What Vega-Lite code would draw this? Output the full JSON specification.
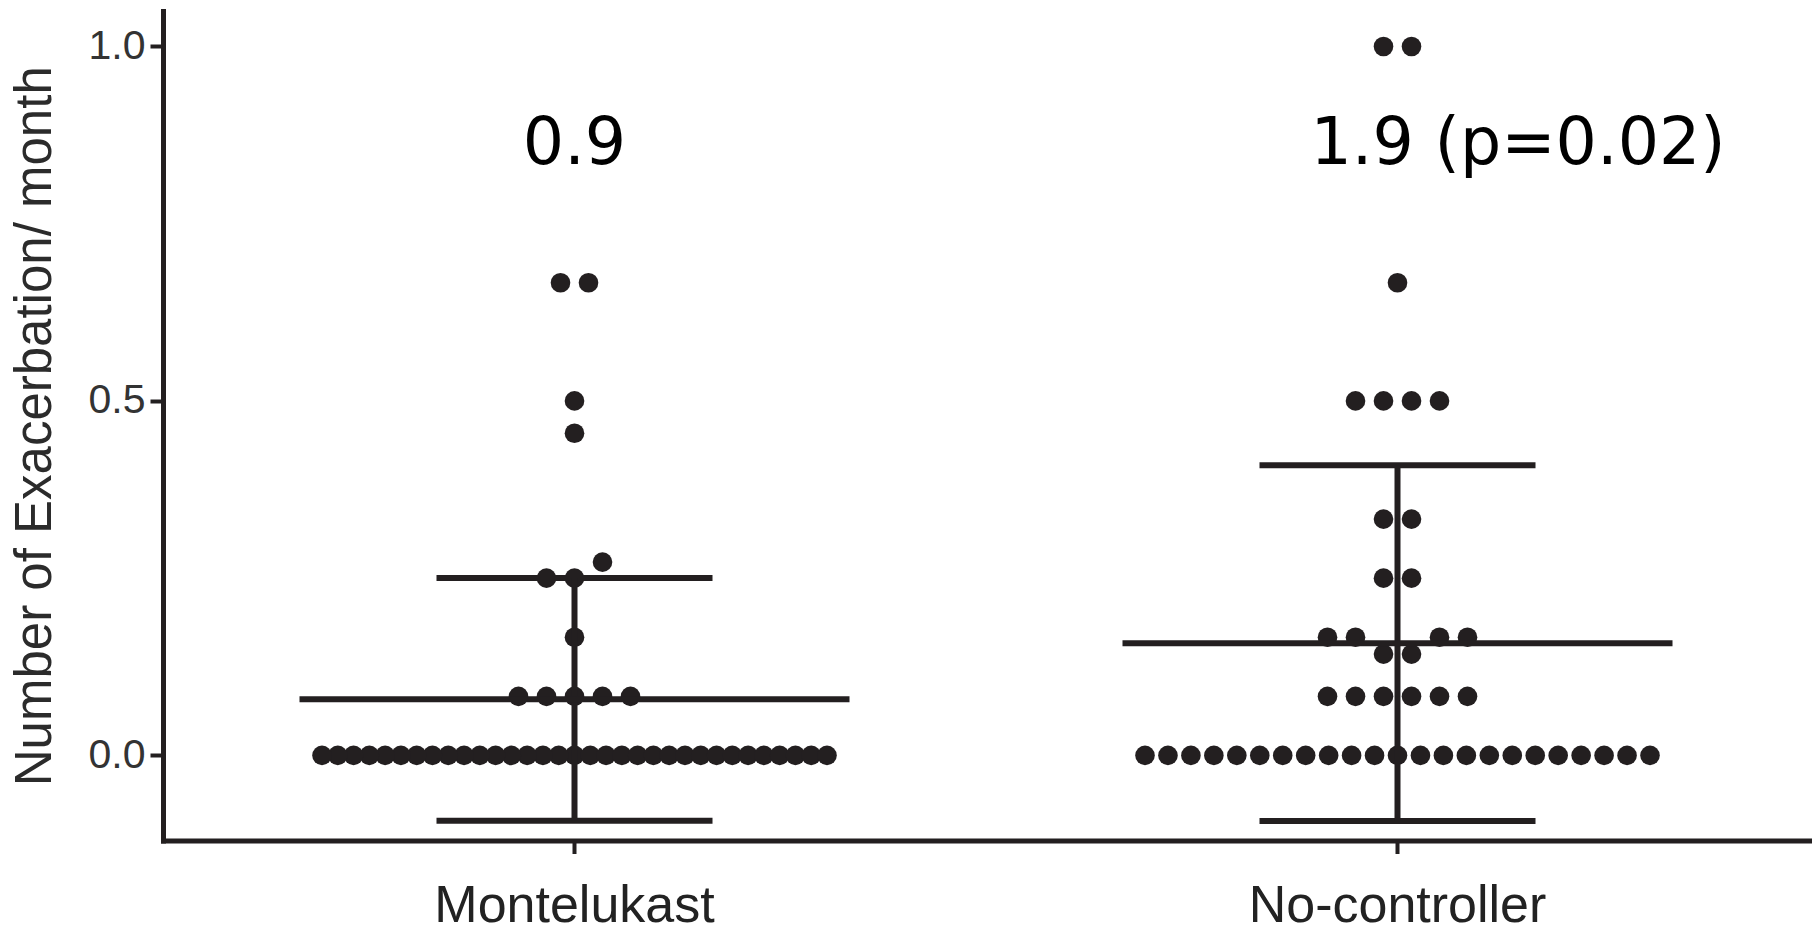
{
  "$schema": "https://vega.github.io/schema/vega-lite/v6.json",
  "width": 1646,
  "height": 829.5,
  "autosize": {"type": "none"},
  "padding": {"left": 163, "top": 11, "right": 9, "bottom": 93.5},
  "background": "white",
  "config": {"view": {"stroke": null}, "font": "Liberation Sans"},
  "data": {
    "values": [
      {"group": "Montelukast", "value": 0}, {"group": "Montelukast", "value": 0}, {"group": "Montelukast", "value": 0},
      {"group": "Montelukast", "value": 0}, {"group": "Montelukast", "value": 0}, {"group": "Montelukast", "value": 0},
      {"group": "Montelukast", "value": 0}, {"group": "Montelukast", "value": 0}, {"group": "Montelukast", "value": 0},
      {"group": "Montelukast", "value": 0}, {"group": "Montelukast", "value": 0}, {"group": "Montelukast", "value": 0},
      {"group": "Montelukast", "value": 0}, {"group": "Montelukast", "value": 0}, {"group": "Montelukast", "value": 0},
      {"group": "Montelukast", "value": 0}, {"group": "Montelukast", "value": 0}, {"group": "Montelukast", "value": 0},
      {"group": "Montelukast", "value": 0}, {"group": "Montelukast", "value": 0}, {"group": "Montelukast", "value": 0},
      {"group": "Montelukast", "value": 0}, {"group": "Montelukast", "value": 0}, {"group": "Montelukast", "value": 0},
      {"group": "Montelukast", "value": 0}, {"group": "Montelukast", "value": 0}, {"group": "Montelukast", "value": 0},
      {"group": "Montelukast", "value": 0}, {"group": "Montelukast", "value": 0}, {"group": "Montelukast", "value": 0},
      {"group": "Montelukast", "value": 0}, {"group": "Montelukast", "value": 0}, {"group": "Montelukast", "value": 0},
      {"group": "Montelukast", "value": 0.0833}, {"group": "Montelukast", "value": 0.0833}, {"group": "Montelukast", "value": 0.0833},
      {"group": "Montelukast", "value": 0.0833}, {"group": "Montelukast", "value": 0.0833},
      {"group": "Montelukast", "value": 0.1667},
      {"group": "Montelukast", "value": 0.25}, {"group": "Montelukast", "value": 0.25},
      {"group": "Montelukast", "value": 0.2727},
      {"group": "Montelukast", "value": 0.4545},
      {"group": "Montelukast", "value": 0.5},
      {"group": "Montelukast", "value": 0.6667}, {"group": "Montelukast", "value": 0.6667},

      {"group": "No-controller", "value": 0}, {"group": "No-controller", "value": 0}, {"group": "No-controller", "value": 0},
      {"group": "No-controller", "value": 0}, {"group": "No-controller", "value": 0}, {"group": "No-controller", "value": 0},
      {"group": "No-controller", "value": 0}, {"group": "No-controller", "value": 0}, {"group": "No-controller", "value": 0},
      {"group": "No-controller", "value": 0}, {"group": "No-controller", "value": 0}, {"group": "No-controller", "value": 0},
      {"group": "No-controller", "value": 0}, {"group": "No-controller", "value": 0}, {"group": "No-controller", "value": 0},
      {"group": "No-controller", "value": 0}, {"group": "No-controller", "value": 0}, {"group": "No-controller", "value": 0},
      {"group": "No-controller", "value": 0}, {"group": "No-controller", "value": 0}, {"group": "No-controller", "value": 0},
      {"group": "No-controller", "value": 0}, {"group": "No-controller", "value": 0},
      {"group": "No-controller", "value": 0.0833}, {"group": "No-controller", "value": 0.0833}, {"group": "No-controller", "value": 0.0833},
      {"group": "No-controller", "value": 0.0833}, {"group": "No-controller", "value": 0.0833}, {"group": "No-controller", "value": 0.0833},
      {"group": "No-controller", "value": 0.1429}, {"group": "No-controller", "value": 0.1429},
      {"group": "No-controller", "value": 0.1667}, {"group": "No-controller", "value": 0.1667},
      {"group": "No-controller", "value": 0.1667}, {"group": "No-controller", "value": 0.1667},
      {"group": "No-controller", "value": 0.25}, {"group": "No-controller", "value": 0.25},
      {"group": "No-controller", "value": 0.3333}, {"group": "No-controller", "value": 0.3333},
      {"group": "No-controller", "value": 0.5}, {"group": "No-controller", "value": 0.5},
      {"group": "No-controller", "value": 0.5}, {"group": "No-controller", "value": 0.5},
      {"group": "No-controller", "value": 0.6667},
      {"group": "No-controller", "value": 1}, {"group": "No-controller", "value": 1}
    ]
  },
  "encoding": {
    "x": {
      "field": "group",
      "type": "nominal",
      "sort": ["Montelukast", "No-controller"],
      "scale": {"type": "band", "paddingInner": 0, "paddingOuter": 0},
      "axis": {
        "title": null,
        "labelAngle": 0,
        "labelLimit": 0,
        "labelFont": "Liberation Sans",
        "labelFontSize": 52,
        "labelColor": "#222222",
        "labelPadding": 27,
        "tickSize": 13,
        "tickWidth": 4,
        "tickColor": "#231f20",
        "domainWidth": 5,
        "domainColor": "#231f20",
        "domainCap": "square"
      }
    },
    "y": {
      "field": "value",
      "type": "quantitative",
      "title": "Number of Exacerbation/ month",
      "scale": {"domain": [-0.12, 1.05], "nice": false, "zero": false},
      "axis": {
        "values": [0, 0.5, 1],
        "format": ".1f",
        "grid": false,
        "labelFont": "Liberation Sans",
        "labelFontSize": 41,
        "labelColor": "#333333",
        "labelPadding": 5,
        "tickSize": 13,
        "tickWidth": 4,
        "tickColor": "#231f20",
        "domainWidth": 5,
        "domainColor": "#231f20",
        "domainCap": "square",
        "titleFont": "Liberation Sans",
        "titleFontSize": 51,
        "titleFontWeight": "normal",
        "titleColor": "#2b2b2b",
        "titlePadding": 27
      }
    }
  },
  "layer": [
    {
      "transform": [
        {"window": [{"op": "lag", "field": "value", "as": "prev"}], "groupby": ["group"], "sort": [{"field": "value"}]},
        {"calculate": "datum.prev == null || datum.value - datum.prev > 0.03 ? 1 : 0", "as": "brk"},
        {"window": [{"op": "sum", "field": "brk", "as": "cluster"}], "groupby": ["group"], "sort": [{"field": "value"}], "frame": [null, 0]},
        {"window": [{"op": "row_number", "as": "k1"}], "groupby": ["group", "cluster"], "sort": [{"field": "value"}]},
        {"joinaggregate": [{"op": "count", "as": "n"}], "groupby": ["group", "cluster"]},
        {"calculate": "datum.k1 - 1", "as": "k"},
        {"calculate": "datum.n % 2 == 1 ? (datum.k % 2 == 1 ? -1 : 1) * ceil(datum.k / 2) : (datum.k % 2 == 0 ? -1 : 1) * (floor(datum.k / 2) + 0.5)", "as": "slot"},
        {"calculate": "datum.slot * min(28, 505 / max(datum.n - 1, 1))", "as": "off"}
      ],
      "mark": {"type": "circle", "size": 385, "opacity": 1, "color": "#231f20"},
      "encoding": {
        "xOffset": {"field": "off", "type": "quantitative", "scale": {"domain": [-411.5, 411.5], "range": [0, 823]}}
      }
    },
    {
      "mark": {
        "type": "errorbar",
        "extent": "stdev",
        "color": "#231f20",
        "rule": {"strokeWidth": 6, "opacity": 1},
        "ticks": {"size": 276, "thickness": 6, "color": "#231f20", "opacity": 1}
      }
    },
    {
      "mark": {"type": "tick", "size": 550, "thickness": 6, "color": "#231f20", "opacity": 1},
      "encoding": {
        "y": {"aggregate": "mean", "field": "value", "type": "quantitative", "title": "Number of Exacerbation/ month"}
      }
    },
    {
      "data": {"values": [{"group": "Montelukast", "ypos": 0.834, "label": "0.9"}]},
      "mark": {"type": "text", "font": "DejaVu Sans", "fontSize": 65, "align": "center", "baseline": "alphabetic", "color": "#000000"},
      "encoding": {
        "y": {"field": "ypos", "type": "quantitative", "title": "Number of Exacerbation/ month"},
        "text": {"field": "label"}
      }
    },
    {
      "data": {"values": [{"group": "No-controller", "ypos": 0.834, "label": "1.9 (p=0.02)"}]},
      "mark": {"type": "text", "font": "DejaVu Sans", "fontSize": 65, "align": "left", "baseline": "alphabetic", "dx": -87, "color": "#000000"},
      "encoding": {
        "y": {"field": "ypos", "type": "quantitative", "title": "Number of Exacerbation/ month"},
        "text": {"field": "label"}
      }
    }
  ]
}
